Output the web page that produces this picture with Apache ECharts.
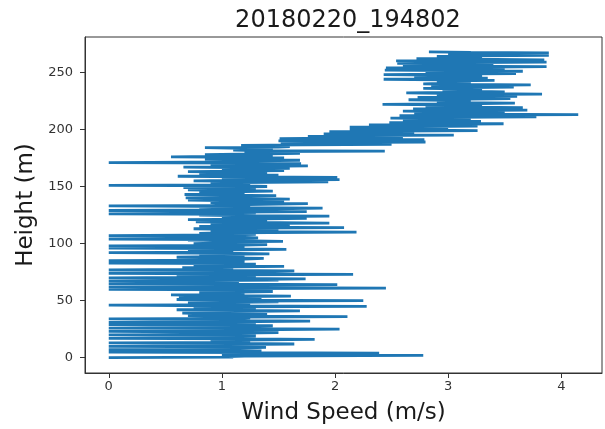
<!DOCTYPE html>
<html lang="en">
<head>
<meta charset="UTF-8">
<title>20180220_194802</title>
<script src="https://cdn.jsdelivr.net/npm/echarts@6.0.0/dist/echarts.min.js"></script>
<style>
  html, body { margin: 0; padding: 0; background: #fff; }
</style>
</head>
<body>
<div id="main" style="width:605px;height:429px;"></div>
<script type="text/javascript">
// height (m) of each sample, bottom to top (one row = 10 m)
var heights = [
  0, 0.5, 1, 1.5, 2, 2.5, 3, 3.5, 4, 4.5, 5, 5.5, 6, 6.5, 7, 7.5, 8, 8.5, 9, 9.5,
  10, 10.5, 11, 11.5, 12, 12.5, 13, 13.5, 14, 14.5, 15, 15.5, 16, 16.5, 17, 17.5, 18, 18.5, 19, 19.5,
  20, 20.5, 21, 21.5, 22, 22.5, 23, 23.5, 24, 24.5, 25, 25.5, 26, 26.5, 27, 27.5, 28, 28.5, 29, 29.5,
  30, 30.5, 31, 31.5, 32, 32.5, 33, 33.5, 34, 34.5, 35, 35.5, 36, 36.5, 37, 37.5, 38, 38.5, 39, 39.5,
  40, 40.5, 41, 41.5, 42, 42.5, 43, 43.5, 44, 44.5, 45, 45.5, 46, 46.5, 47, 47.5, 48, 48.5, 49, 49.5,
  50, 50.5, 51, 51.5, 52, 52.5, 53, 53.5, 54, 54.5, 55, 55.5, 56, 56.5, 57, 57.5, 58, 58.5, 59, 59.5,
  60, 60.5, 61, 61.5, 62, 62.5, 63, 63.5, 64, 64.5, 65, 65.5, 66, 66.5, 67, 67.5, 68, 68.5, 69, 69.5,
  70, 70.5, 71, 71.5, 72, 72.5, 73, 73.5, 74, 74.5, 75, 75.5, 76, 76.5, 77, 77.5, 78, 78.5, 79, 79.5,
  80, 80.5, 81, 81.5, 82, 82.5, 83, 83.5, 84, 84.5, 85, 85.5, 86, 86.5, 87, 87.5, 88, 88.5, 89, 89.5,
  90, 90.5, 91, 91.5, 92, 92.5, 93, 93.5, 94, 94.5, 95, 95.5, 96, 96.5, 97, 97.5, 98, 98.5, 99, 99.5,
  100, 100.5, 101, 101.5, 102, 102.5, 103, 103.5, 104, 104.5, 105, 105.5, 106, 106.5, 107, 107.5, 108, 108.5, 109, 109.5,
  110, 110.5, 111, 111.5, 112, 112.5, 113, 113.5, 114, 114.5, 115, 115.5, 116, 116.5, 117, 117.5, 118, 118.5, 119, 119.5,
  120, 120.5, 121, 121.5, 122, 122.5, 123, 123.5, 124, 124.5, 125, 125.5, 126, 126.5, 127, 127.5, 128, 128.5, 129, 129.5,
  130, 130.5, 131, 131.5, 132, 132.5, 133, 133.5, 134, 134.5, 135, 135.5, 136, 136.5, 137, 137.5, 138, 138.5, 139, 139.5,
  140, 140.5, 141, 141.5, 142, 142.5, 143, 143.5, 144, 144.5, 145, 145.5, 146, 146.5, 147, 147.5, 148, 148.5, 149, 149.5,
  150, 150.5, 151, 151.5, 152, 152.5, 153, 153.5, 154, 154.5, 155, 155.5, 156, 156.5, 157, 157.5, 158, 158.5, 159, 159.5,
  160, 160.5, 161, 161.5, 162, 162.5, 163, 163.5, 164, 164.5, 165, 165.5, 166, 166.5, 167, 167.5, 168, 168.5, 169, 169.5,
  170, 170.5, 171, 171.5, 172, 172.5, 173, 173.5, 174, 174.5, 175, 175.5, 176, 176.5, 177, 177.5, 178, 178.5, 179, 179.5,
  180, 180.5, 181, 181.5, 182, 182.5, 183, 183.5, 184, 184.5, 185, 185.5, 186, 186.5, 187, 187.5, 188, 188.5, 189, 189.5,
  190, 190.5, 191, 191.5, 192, 192.5, 193, 193.5, 194, 194.5, 195, 195.5, 196, 196.5, 197, 197.5, 198, 198.5, 199, 199.5,
  200, 200.5, 201, 201.5, 202, 202.5, 203, 203.5, 204, 204.5, 205, 205.5, 206, 206.5, 207, 207.5, 208, 208.5, 209, 209.5,
  210, 210.5, 211, 211.5, 212, 212.5, 213, 213.5, 214, 214.5, 215, 215.5, 216, 216.5, 217, 217.5, 218, 218.5, 219, 219.5,
  220, 220.5, 221, 221.5, 222, 222.5, 223, 223.5, 224, 224.5, 225, 225.5, 226, 226.5, 227, 227.5, 228, 228.5, 229, 229.5,
  230, 230.5, 231, 231.5, 232, 232.5, 233, 233.5, 234, 234.5, 235, 235.5, 236, 236.5, 237, 237.5, 238, 238.5, 239, 239.5,
  240, 240.5, 241, 241.5, 242, 242.5, 243, 243.5, 244, 244.5, 245, 245.5, 246, 246.5, 247, 247.5, 248, 248.5, 249, 249.5,
  250, 250.5, 251, 251.5, 252, 252.5, 253, 253.5, 254, 254.5, 255, 255.5, 256, 256.5, 257, 257.5, 258, 258.5, 259, 259.5,
  260, 260.5, 261, 261.5, 262, 262.5, 263, 263.5, 264, 264.5, 265, 265.5, 266, 266.5, 267, 267.5, 268
];

// wind speed (m/s) at each height, same rows as above
var speeds = [
  0.0, 1.1, 1.05, 1.2, 2.78, 1.0, 1.2, 1.15, 2.39, 1.25, 0.0, 1.05, 1.35, 1.1, 0.0, 1.2, 1.0, 1.0, 1.39, 1.15,
  0.0, 1.2, 1.1, 1.05, 1.64, 1.1, 0.0, 1.25, 1.25, 1.0, 0.9, 1.15, 1.82, 1.2, 0.0, 1.1, 1.15, 1.05, 1.3, 1.2,
  0.0, 1.1, 1.0, 1.15, 1.5, 1.0, 0.0, 1.2, 1.2, 1.25, 2.04, 1.1, 0.0, 1.05, 1.1, 1.2, 1.45, 1.15, 0.0, 1.0,
  1.3, 1.2, 0.0, 1.1, 1.78, 1.25, 0.95, 1.05, 0.0, 1.15, 1.25, 1.2, 2.11, 1.0, 0.7, 1.1, 1.4, 0.95, 0.65, 1.2,
  1.2, 1.05, 1.69, 1.15, 0.6, 1.0, 1.3, 1.2, 0.75, 1.1, 2.28, 0.95, 0.0, 1.25, 1.1, 1.05, 0.7, 1.1, 1.5, 1.2,
  2.25, 1.0, 0.6, 1.15, 1.35, 1.05, 0.62, 1.2, 1.61, 0.95, 0.55, 1.1, 1.2, 1.0, 0.8, 1.15, 1.45, 1.05, 0.9, 1.2,
  0.0, 1.1, 2.45, 0.95, 0.0, 1.2, 1.3, 1.05, 2.02, 1.0, 0.0, 1.15, 1.1, 1.1, 0.0, 0.9, 1.5, 1.2, 1.74, 1.05,
  0.0, 1.0, 1.3, 1.1, 0.6, 1.15, 2.16, 0.95, 0.0, 1.05, 1.2, 1.2, 1.64, 1.0, 0.0, 1.1, 1.1, 0.9, 0.65, 1.15,
  1.55, 1.05, 0.75, 1.0, 1.3, 1.1, 0.0, 0.95, 1.2, 1.15, 0.0, 1.0, 1.0, 1.2, 1.37, 1.05, 0.6, 0.95, 1.2, 1.1,
  0.8, 1.0, 1.42, 1.15, 0.0, 0.95, 1.1, 1.05, 0.7, 1.1, 1.57, 1.0, 0.0, 1.2, 1.2, 0.95, 0.0, 1.1, 1.4, 1.05,
  0.75, 1.0, 1.25, 1.1, 1.54, 1.15, 0.7, 0.95, 0.0, 1.05, 1.32, 1.2, 1.0, 1.1, 0.0, 1.0, 1.3, 1.15, 0.8, 1.05,
  2.19, 1.2, 0.9, 1.1, 1.5, 1.05, 0.75, 1.25, 2.08, 1.15, 0.8, 1.0, 1.6, 1.2, 0.9, 1.1, 1.95, 1.3, 0.77, 1.05,
  1.4, 1.15, 0.7, 1.2, 1.75, 1.0, 1.0, 1.25, 1.95, 1.1, 0.8, 1.2, 0.0, 1.05, 1.3, 1.15, 1.75, 1.25, 0.0, 1.1,
  1.2, 1.2, 1.89, 1.05, 0.8, 1.15, 0.0, 1.25, 1.1, 1.1, 1.76, 1.0, 0.9, 1.2, 1.55, 1.15, 0.7, 1.05, 1.6, 1.2,
  0.68, 1.1, 1.3, 1.25, 1.48, 1.0, 0.67, 1.15, 1.2, 1.05, 0.8, 1.2, 1.45, 1.1, 0.7, 1.0, 1.3, 1.15, 0.66, 1.05,
  1.4, 1.2, 0.0, 1.1, 1.1, 1.25, 0.9, 1.15, 1.94, 1.3, 0.75, 1.2, 2.04, 1.35, 1.0, 1.1, 2.02, 1.25, 0.61, 1.15,
  1.5, 1.2, 0.8, 1.1, 1.4, 1.25, 0.7, 1.15, 1.55, 1.2, 1.0, 1.3, 1.6, 1.1, 0.66, 1.2, 1.76, 1.25, 0.9, 1.15,
  1.7, 1.2, 0.0, 1.1, 1.2, 1.3, 1.69, 1.2, 0.85, 1.15, 1.55, 1.25, 0.55, 1.1, 1.45, 1.2, 0.85, 1.3, 1.69, 1.25,
  1.2, 1.35, 2.44, 1.3, 1.1, 1.45, 1.4, 1.4, 0.85, 1.5, 1.6, 1.55, 1.17, 1.7, 2.5, 1.8, 1.52, 1.9, 2.8, 2.0,
  1.5, 2.05, 2.79, 2.1, 1.51, 2.2, 2.6, 2.15, 1.76, 2.3, 3.05, 2.35, 1.9, 2.4, 2.7, 2.5, 1.95, 2.55, 3.26, 2.6,
  2.13, 2.65, 3.0, 2.7, 2.13, 2.75, 3.26, 2.8, 2.3, 2.85, 3.49, 2.9, 2.48, 2.95, 3.29, 3.0, 2.6, 2.95, 3.2, 3.05,
  2.49, 3.0, 3.78, 3.1, 2.57, 3.05, 4.15, 3.15, 2.7, 3.1, 3.5, 3.2, 2.6, 3.1, 3.7, 3.15, 2.69, 3.05, 3.66, 3.2,
  2.8, 3.1, 3.3, 3.0, 2.42, 3.15, 3.59, 3.05, 2.9, 3.1, 3.2, 3.0, 2.65, 3.2, 3.55, 3.05, 2.73, 3.15, 3.61, 3.1,
  2.9, 3.05, 3.83, 3.1, 2.63, 3.0, 3.5, 3.15, 2.95, 3.05, 3.3, 3.1, 2.78, 3.0, 3.58, 3.2, 2.85, 3.05, 3.73, 3.1,
  2.78, 3.0, 3.2, 3.15, 2.9, 3.05, 3.41, 2.95, 2.43, 3.1, 3.35, 3.0, 2.7, 3.2, 3.3, 3.05, 2.43, 2.95, 3.6, 3.1,
  2.8, 3.15, 3.66, 3.0, 2.44, 3.05, 3.5, 3.2, 2.45, 3.1, 3.87, 2.95, 2.6, 3.15, 3.4, 3.05, 2.55, 3.2, 3.87, 3.1,
  2.54, 3.0, 3.85, 3.2, 2.72, 3.1, 3.3, 3.05, 2.9, 3.25, 3.89, 3.15, 3.0, 3.3, 3.89, 3.2, 2.83
];

var xTicks = [0, 1, 2, 3, 4];
var yTicks = [0, 50, 100, 150, 200, 250];

var points = speeds.map(function (s, i) { return [s, heights[i]]; });

var myChart = echarts.init(document.getElementById('main'));
myChart.setOption({
    animation: false,
    textStyle: { fontFamily: 'DejaVu Sans' },
    title: {
        text: '20180220_194802',
        left: 343,
        textAlign: 'center',
        top: 4,
        textStyle: { fontFamily: 'DejaVu Sans', fontSize: 24, fontWeight: 'normal', color: '#1a1a1a' }
    },
    grid: {
        left: 85, right: 3, top: 37, bottom: 56,
        outerBoundsMode: 'none',
        containLabel: false,
        show: true, borderColor: '#333', borderWidth: 1, backgroundColor: '#fff'
    },
    xAxis: {
        type: 'value',
        min: -0.21, max: 4.36,
        name: 'Wind Speed (m/s)',
        nameLocation: 'middle',
        nameGap: 29,
        nameTextStyle: { fontFamily: 'DejaVu Sans', fontSize: 23, color: '#1a1a1a' },
        axisLine: { show: true, onZero: false, lineStyle: { color: '#333' } },
        axisTick: { show: true, length: 5, customValues: xTicks, lineStyle: { color: '#333' } },
        axisLabel: { customValues: xTicks, fontSize: 13, color: '#333', margin: 7 },
        splitLine: { show: false }
    },
    yAxis: {
        type: 'value',
        min: -13.4, max: 281,
        name: 'Height (m)',
        nameLocation: 'middle',
        nameGap: 43,
        nameTextStyle: { fontFamily: 'DejaVu Sans', fontSize: 23, color: '#1a1a1a' },
        axisLine: { show: true, onZero: false, lineStyle: { color: '#333' } },
        axisTick: { show: true, length: 5, customValues: yTicks, lineStyle: { color: '#333' } },
        axisLabel: { customValues: yTicks, fontSize: 13, color: '#333', margin: 12 },
        splitLine: { show: false }
    },
    series: [{
        type: 'line',
        data: points,
        showSymbol: false,
        lineStyle: { color: '#1f77b4', width: 2.8 },
        itemStyle: { color: '#1f77b4' }
    }]
});
</script>
</body>
</html>
